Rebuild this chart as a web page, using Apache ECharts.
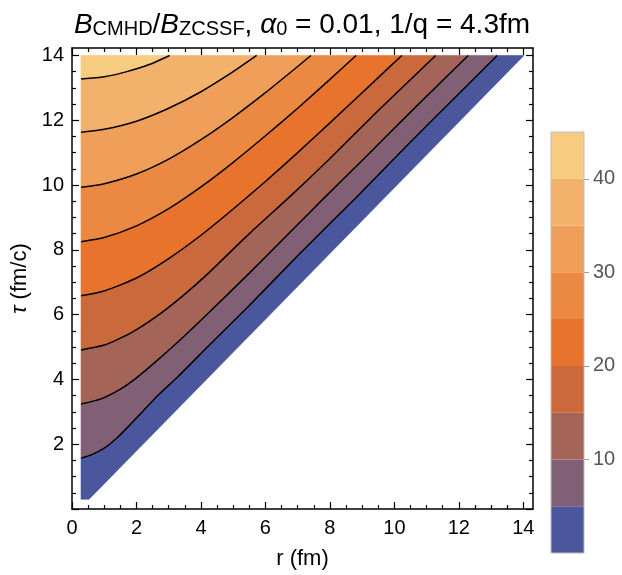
<!DOCTYPE html>
<html><head><meta charset="utf-8">
<script src="https://cdn.jsdelivr.net/npm/echarts@6/dist/echarts.min.js"></script>
<style>html,body{margin:0;padding:0;background:#fff}#c{width:622px;height:575px}</style>
</head><body><div id="c"></div>
<script>
// ---- data ----
const levels = [5, 10, 15, 20, 25, 30, 35, 40];
// contour lines, [r, tau] points from left edge to top edge
const c5  = [[0.28,1.57],[0.6,1.67],[1.0,1.88],[1.4,2.2],[1.8,2.6],[2.2,3.02],[2.7,3.54],[3.3,4.1],[4.2,5.0],[5.5,6.28],[7.0,7.82],[8.8,9.6],[10.5,11.33],[12.0,12.82],[13.19,14.0]];
const c10 = [[0.28,3.24],[0.9,3.4],[1.5,3.7],[2.0,4.05],[2.6,4.55],[3.3,5.17],[4.2,6.02],[5.5,7.28],[6.7,8.48],[7.8,9.58],[9.0,10.76],[10.5,12.25],[12.29,14.0]];
const c15 = [[0.28,4.91],[1.0,5.06],[1.8,5.42],[2.6,5.93],[3.4,6.55],[4.2,7.25],[5.5,8.5],[6.8,9.68],[8.0,10.82],[9.5,12.3],[11.28,14.0]];
const c20 = [[0.28,6.58],[1.0,6.73],[2.0,7.13],[3.0,7.73],[4.0,8.45],[5.0,9.26],[6.0,10.11],[7.0,11.0],[8.0,11.92],[9.0,12.85],[10.23,14.0]];
const c25 = [[0.28,8.25],[1.0,8.38],[2.0,8.74],[3.0,9.27],[4.0,9.94],[5.0,10.7],[6.0,11.52],[7.0,12.37],[8.0,13.26],[8.81,14.0]];
const c30 = [[0.28,9.93],[1.0,10.04],[2.0,10.34],[3.0,10.8],[4.0,11.4],[5.0,12.09],[6.0,12.85],[7.0,13.66],[7.41,14.0]];
const c35 = [[0.28,11.63],[1.0,11.72],[2.0,11.97],[3.0,12.37],[4.0,12.88],[5.0,13.5],[5.73,14.0]];
const c40 = [[0.28,13.27],[1.0,13.34],[1.7,13.5],[2.4,13.72],[3.03,14.0]];
// plotted domain (tau > r, clipped): boundary corners
const diagTop = [14.02,14.0];
const diagBottom = [0.53,0.3];
const cornerBL = [0.28,0.3];
const cornerTL = [0.28,14.0];
// colour bar
const cbLevels = [0, 5, 10, 15, 20, 25, 30, 35, 40, 45];
const cbTicks = [10, 20, 30, 40];
// axis ticks
const rTicks = [0, 2, 4, 6, 8, 10, 12, 14];
const rMinor = [0.5,1,1.5,2.5,3,3.5,4.5,5,5.5,6.5,7,7.5,8.5,9,9.5,10.5,11,11.5,12.5,13,13.5];
const tauTicks = [2, 4, 6, 8, 10, 12, 14];
const tauMajorTicks = [0, 2, 4, 6, 8, 10, 12, 14];
const tauMinor = [0.5,1,1.5,2.5,3,3.5,4.5,5,5.5,6.5,7,7.5,8.5,9,9.5,10.5,11,11.5,12.5,13,13.5];

// ---- styles ----
const bandColors = ['#4a579c','#816075','#a56458','#c9693c','#e8732c','#eb8943','#ef9f59','#f3b26b','#f7cb80'];
const FONT = 'Liberation Sans';

const contours = [c5, c10, c15, c20, c25, c30, c35, c40];
// filled bands between consecutive contour lines (and the domain boundary)
const bands = [];
bands.push(c5.concat([diagTop, diagBottom, cornerBL]));
for (let k = 1; k < contours.length; k++) {
  bands.push(contours[k].concat(contours[k - 1].slice().reverse()));
}
bands.push(c40.concat([cornerTL]));

const XMAX = 14.3, YMAX = 14.23;
const frameLine = {show: true, onZero: false, lineStyle: {color: '#000', width: 1.5}};
function tickAxis(dim, pos, ticks, len, line) {
  return {
    type: 'value', gridIndex: 0, min: 0, max: dim === 'x' ? XMAX : YMAX, position: pos,
    axisLine: line ? frameLine : {show: false, onZero: false},
    axisTick: {show: true, inside: true, length: len, customValues: ticks, lineStyle: {color: '#000', width: 1.2}},
    axisLabel: {show: false},
    splitLine: {show: false}
  };
}
const xAxes = [
  Object.assign(tickAxis('x','bottom',rTicks,7,true), {
    axisLabel: {show: true, customValues: rTicks, color: '#000', fontSize: 20, fontFamily: FONT, margin: 9},
    name: 'r (fm)', nameLocation: 'middle', nameGap: 39,
    nameTextStyle: {color: '#000', fontSize: 22, fontFamily: FONT}
  }),
  tickAxis('x','bottom',rMinor,4,false),
  tickAxis('x','top',rTicks,7,true),
  tickAxis('x','top',rMinor,4,false),
  {type: 'category', gridIndex: 1, data: ['cb'], show: false}
];
const yAxes = [
  Object.assign(tickAxis('y','left',tauMajorTicks,7,true), {
    axisLabel: {show: true, customValues: tauTicks, color: '#000', fontSize: 20, fontFamily: FONT, margin: 8},
    name: '{i|τ} (fm/c)', nameLocation: 'middle', nameGap: 34,
    nameTextStyle: {color: '#000', fontSize: 22, fontFamily: FONT,
      rich: {i: {fontStyle: 'italic', fontSize: 22, fontFamily: FONT, color: '#000'}}}
  }),
  tickAxis('y','left',tauMinor,4,false),
  tickAxis('y','right',tauMajorTicks,7,true),
  tickAxis('y','right',tauMinor,4,false),
  {type: 'value', gridIndex: 1, min: cbLevels[0], max: cbLevels[cbLevels.length-1], position: 'right',
   axisLine: {show: false},
   axisTick: {show: true, inside: false, length: 5, customValues: cbTicks, lineStyle: {color: '#999'}},
   axisLabel: {show: true, customValues: cbTicks, color: '#555', fontSize: 20, fontFamily: FONT, margin: 9},
   splitLine: {show: false}}
];

const series = [];
series.push({
  type: 'custom', xAxisIndex: 0, yAxisIndex: 0, silent: true, z: 1,
  data: bands.map((p, i) => [i, i]),
  renderItem: function (params, api) {
    const pts = bands[params.dataIndex].map(p => api.coord(p));
    const col = bandColors[params.dataIndex];
    return {type: 'polygon', shape: {points: pts}, style: {fill: col, stroke: col, lineWidth: 0.6}};
  }
});
contours.forEach((c, k) => {
  series.push({
    type: 'line', name: 'B=' + levels[k], xAxisIndex: 0, yAxisIndex: 0, data: c,
    symbol: 'none', showSymbol: false, silent: true, z: 3, clip: true,
    smooth: 0.2,
    lineStyle: {color: '#000', width: 1.5}
  });
});
for (let i = 0; i < cbLevels.length - 1; i++) {
  series.push({
    type: 'bar', xAxisIndex: 4, yAxisIndex: 4, stack: 'cb', silent: true,
    data: [cbLevels[i+1] - cbLevels[i]], barWidth: '100%', barCategoryGap: '0%',
    itemStyle: {color: bandColors[i]}
  });
}

const chart = echarts.init(document.getElementById('c'), null, {renderer: 'canvas'});
const T = {fontFamily: FONT, color: '#000', fontWeight: 'normal', verticalAlign: 'bottom'};
chart.setOption({
  animation: false,
  backgroundColor: '#fff',
  title: {
    text: '{b|B}{s|CMHD}{n|/}{b|B}{s|ZCSSF}{n|, }{a|α}{s|0}{n| = 0.01, 1/q = 4.3fm}',
    left: 297, textAlign: 'center', top: 0,
    textStyle: {
      fontWeight: 'normal',
      rich: {
        n: Object.assign({fontSize: 28, lineHeight: 34}, T),
        b: Object.assign({fontSize: 28, lineHeight: 34, fontStyle: 'italic'}, T),
        a: Object.assign({fontSize: 28, lineHeight: 34, fontStyle: 'italic'}, T),
        s: Object.assign({fontSize: 20, lineHeight: 14}, T)
      }
    }
  },
  grid: [
    {left: 72, top: 48, width: 461, height: 464, show: false},
    {left: 551, top: 132, width: 33, height: 421, show: true, borderColor: '#bdbdbd', borderWidth: 1, backgroundColor: 'transparent', z: 5}
  ],
  xAxis: xAxes,
  yAxis: yAxes,
  series: series
});
</script></body></html>
